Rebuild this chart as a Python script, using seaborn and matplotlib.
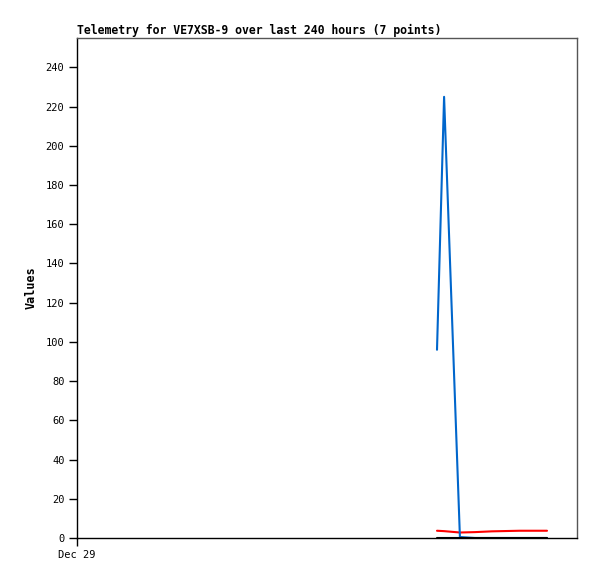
import pandas as pd
import seaborn as sns
import matplotlib.pyplot as plt

# hours since start of 240 h window
hours = [172.8, 176.2, 183.8, 191.0, 199.2, 212.5, 225.6]
blue_vals = [96, 225, 0.5, 0, 0, 0, 0]
red_vals = [3.7, 3.5, 2.8, 3.0, 3.4, 3.7, 3.7]
black_vals = [0, 0, 0, 0, 0, 0, 0]
yticks = list(range(0, 241, 20))

df = pd.DataFrame({"hours": hours, "blue": blue_vals, "red": red_vals, "black": black_vals})

sns.set_style("white")
plt.rcParams["font.family"] = ["DejaVu Sans Mono"]
plt.rcParams["text.color"] = "black"
plt.rcParams["axes.labelcolor"] = "black"
plt.rcParams["xtick.color"] = "black"
plt.rcParams["ytick.color"] = "black"

fig = plt.figure(figsize=(5.97, 5.79), dpi=100)
ax = fig.add_axes([77 / 597, 1 - 538 / 579, 500 / 597, 500 / 579])

sns.lineplot(data=df, x="hours", y="red", color="#ff0000", linewidth=1.5, ax=ax)
sns.lineplot(data=df, x="hours", y="blue", color="#0066cc", linewidth=1.5, ax=ax)
sns.lineplot(data=df, x="hours", y="black", color="#000000", linewidth=1.5, ax=ax)

ax.set_xlim(0, 240)
ax.set_ylim(0, 255)
ax.set_yticks(yticks)
ax.set_yticklabels([str(t) for t in yticks], fontsize=7.5)
ax.set_xticks([0])
ax.set_xticklabels(["Dec 29"], fontsize=7.5)
ax.tick_params(axis="both", direction="out", length=6, width=1, color="black", pad=3,
               left=True, bottom=True)

for side in ["left", "bottom"]:
    ax.spines[side].set_color("black")
    ax.spines[side].set_linewidth(1)
for side in ["top", "right"]:
    ax.spines[side].set_color("#555555")
    ax.spines[side].set_linewidth(1)

ax.set_xlabel("")
ax.set_ylabel("Values", fontsize=8.5, fontweight="bold", labelpad=6)
ax.set_title("Telemetry for VE7XSB-9 over last 240 hours (7 points)", loc="left",
             fontsize=8.3, fontweight="bold", pad=3)

plt.savefig("out.png", dpi=100)
